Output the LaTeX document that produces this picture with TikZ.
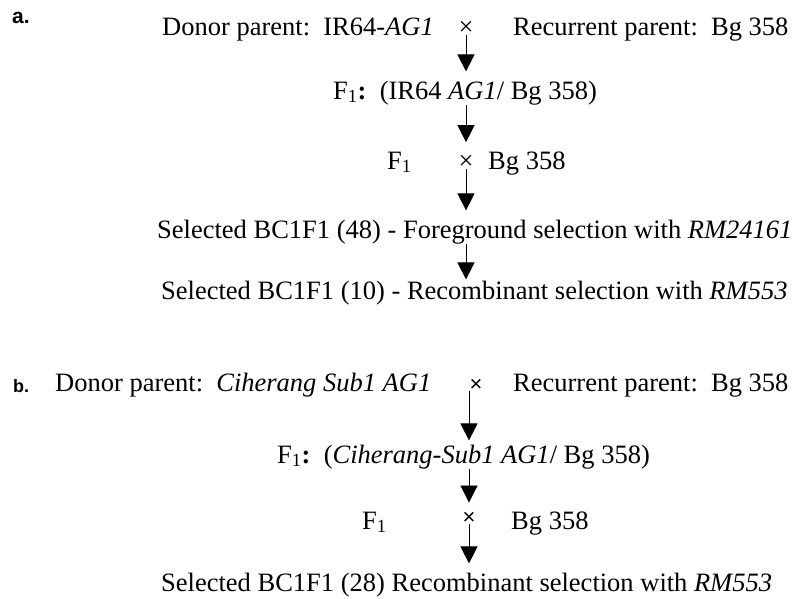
\documentclass[tikz,border=0pt]{standalone}
\usepackage{fontspec}
\setmainfont{Liberation Serif}
\newfontfamily\panelfont{Liberation Sans}
\usetikzlibrary{positioning,arrows.meta}
\tikzset{
	row/.style={anchor=base west, inner sep=0pt,
		font=\fontsize{26.5}{30}\selectfont},
	cross/.style={anchor=base, inner sep=0pt,
		font=\fontsize{26.5}{30}\selectfont},
	crossb/.style={anchor=base, inner sep=0pt,
		font=\panelfont\fontsize{22}{26}\selectfont},
	panel/.style={anchor=base west, inner sep=0pt,
		font=\panelfont\bfseries\fontsize{#1}{#1}\selectfont},
	panel/.default=21,
	flow/.style={->, line width=0.8pt, shorten >=9pt},
	>={Triangle[width=17pt,length=17pt]}
}

\begin{document}
\begin{tikzpicture}[x=1pt,y=-1pt]
		\useasboundingbox (0,0) rectangle (796,598);
		
		% part a
		\node[panel] (alabel) at (12,23) {a.};
		\node[row] (a1) at (162,35) {Donor parent:\ \ IR64-\textit{AG1}};
		\node[cross] (a1x) at (466,35) {×};
		\node[row] (a1r) at (513,35) {Recurrent parent:\ \ Bg 358};
		
		\node[row] (a2) at (333,99) {F\textsubscript{1}\textbf{:}\ \ (IR64 \textit{AG1}/ Bg 358)};
		
		\node[row] (a3f) at (387,169) {F\textsubscript{1}};
		\node[cross] (a3x) at (466,169) {×};
		\node[row] (a3b) at (488,169) {Bg 358};
		
		\node[row] (a4) at (157,238) {Selected BC1F1 (48) - Foreground selection with \textit{RM24161}};
		\node[row] (a5) at (161,299) {Selected BC1F1 (10) - Recombinant selection with \textit{RM553}};
		
		%arrows of part a
		\draw[flow] (a1x.south) -- (a1x |- a2.north);
		\draw[flow] (a2.south -| a1x) -- (a1x |- a3b.north);
		\draw[flow] (a3x.south) -- (a3x |- a4.north);
		\draw[flow,shorten >=1pt] (a4.south -| a3x) -- (a3x |- a5.north);
		
		% part b
		\node[panel=18] (blabel) at (13,392) {b.};
		\node[row] (b1) at (55,391) {Donor parent:\ \ \textit{Ciherang Sub1 AG1}};
		\node[crossb] (b1x) at (476,391) {×};
		\node[row] (b1r) at (513,391) {Recurrent parent:\ \ Bg 358};
		
		\node[row] (b2) at (277,463) {F\textsubscript{1}\textbf{:}\ \ (\textit{Ciherang}-\textit{Sub1 AG1}/ Bg 358)};
		
		\node[row] (b3f) at (362,529) {F\textsubscript{1}};
		\node[crossb] (b3x) at (469,524) {×};
		\node[row] (b3b) at (511,529) {Bg 358};
		
		\node[row] (b4) at (161,591) {Selected BC1F1 (28) Recombinant selection with \textit{RM553}};
		
		%arrows of part b
		\draw[flow,shorten >=4pt] (b1x.south -| b3x) -- (b3x |- b2.north);
		\draw[flow] (b2.south -| b3x) -- (b3x.north);
		\draw[flow] (b3x.south) -- (b3x |- b4.north);
		
\end{tikzpicture}
\end{document}
